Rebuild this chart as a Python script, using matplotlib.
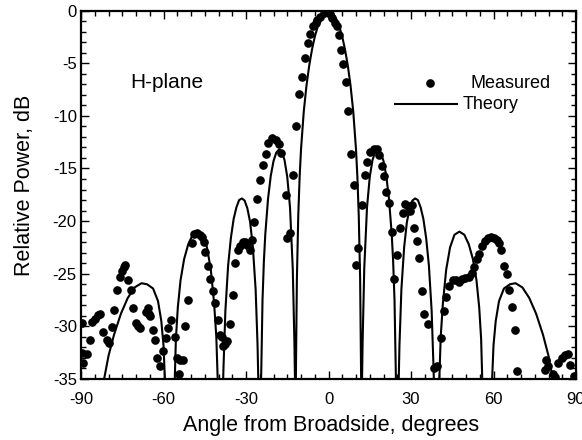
#Recreate the H-plane antenna pattern plot (measured vs theory)

#import modules
import matplotlib
matplotlib.use("Agg")
import matplotlib.pyplot as plt
from matplotlib.ticker import MultipleLocator

#Theory curve (angle in degrees, power in dB)
#points below -35 are the nulls, they get clipped by the axis
theoryAngle = [-83.0, -81.6, -80.0, -78.0, -75.5, -73.0, -70.5, -68.0, -66.0, -63.8, -62.0, -60.8, -60.0, -59.5,
               -57.5, -55.9, -55.5, -54.8, -53.8, -52.5, -51.0, -49.4, -47.6, -45.8, -44.2, -42.8, -41.6, -40.8, -40.3,
               -39.4, -38.35, -38.2, -37.5, -36.5, -35.5, -34.5, -33.5, -32.5, -31.5, -30.5, -29.5, -28.5, -27.5, -26.5, -25.8, -25.5,
               -25.0, -24.55, -24.4, -24.0, -23.5, -23.0, -22.0, -21.0, -20.0, -19.0, -18.0, -17.0, -16.0, -15.0, -14.0, -13.0, -12.4, -12.2,
               -12.0, -11.9, -11.8, -11.5, -11.0, -10.5, -10.0, -9.0, -8.0, -7.0, -6.0, -5.0, -4.0, -3.0, -2.0, -1.0,
               0.0,
               1.0, 2.0, 3.0, 4.0, 5.0, 6.0, 7.0, 8.0, 9.0, 10.0, 10.5, 11.0, 11.5, 11.8, 11.9, 12.0,
               12.2, 12.4, 13.0, 14.0, 15.0, 16.0, 17.0, 18.0, 19.0, 20.0, 21.0, 22.0, 23.0, 23.5, 24.0, 24.4, 24.55, 25.0,
               25.5, 25.8, 26.5, 27.5, 28.5, 29.5, 30.5, 31.5, 32.5, 33.5, 34.5, 35.5, 36.5, 37.5, 38.2, 38.35, 39.4,
               40.3, 40.8, 41.6, 42.8, 44.2, 45.8, 47.6, 49.4, 51.0, 52.5, 53.8, 54.8, 55.5, 55.9, 57.5,
               59.5, 60.0, 60.8, 62.0, 63.8, 66.0, 68.0, 70.5, 73.0, 75.5, 78.0, 80.0, 81.6, 83.0]
theoryPower = [-45.0, -35.0, -32.8, -30.8, -28.8, -27.3, -26.3, -25.9, -26.0, -26.4, -27.6, -29.5, -31.8, -35.0,
               -60.0, -35.0, -31.2, -28.2, -25.6, -23.6, -22.2, -21.3, -21.0, -21.3, -22.5, -24.6, -27.8, -31.0, -35.0,
               -60.0, -35.5, -34.0, -28.5, -24.2, -21.6, -19.8, -18.7, -18.0, -17.85, -18.05, -18.8, -20.1, -22.5, -26.5, -31.8, -35.5,
               -60.0, -35.5, -33.5, -27.5, -23.8, -21.3, -17.9, -15.7, -14.3, -13.5, -13.2, -13.4, -14.2, -15.8, -18.7, -24.5, -31.5, -35.0,
               -60.0, -36.0, -33.0, -25.5, -19.5, -15.8, -13.2, -9.6, -7.1, -5.2, -3.7, -2.5, -1.6, -0.9, -0.4, -0.1,
               0.0,
               -0.1, -0.4, -0.9, -1.6, -2.5, -3.7, -5.2, -7.1, -9.6, -13.2, -15.8, -19.5, -25.5, -33.0, -36.0, -60.0,
               -35.0, -31.5, -24.5, -18.7, -15.8, -14.2, -13.4, -13.2, -13.5, -14.3, -15.7, -17.9, -21.3, -23.8, -27.5, -33.5, -35.5, -60.0,
               -35.5, -31.8, -26.5, -22.5, -20.1, -18.8, -18.05, -17.85, -18.0, -18.7, -19.8, -21.6, -24.2, -28.5, -34.0, -35.5, -60.0,
               -35.0, -31.0, -27.8, -24.6, -22.5, -21.3, -21.0, -21.3, -22.2, -23.6, -25.6, -28.2, -31.2, -35.0, -60.0,
               -35.0, -31.8, -29.5, -27.6, -26.4, -26.0, -25.9, -26.3, -27.3, -28.8, -30.8, -32.8, -35.0, -45.0]

#Measured points
measAngle = [-89.7, -89.5, -89.2, -88.0, -86.8, -86.1, -85.0, -83.9, -83.1, -82.0, -80.4, -79.7, -78.9, -77.9,
             -77.0, -75.9, -75.0, -74.5, -73.9, -72.9, -72.0, -71.0, -70.0, -69.2, -68.6, -66.4, -65.8, -65.2,
             -64.8, -63.8, -63.1, -62.2, -61.2, -60.1, -59.0, -58.2, -57.1, -55.9, -55.2, -54.2, -54.0, -52.9,
             -52.1, -51.0, -49.8, -48.8, -47.7, -46.6, -45.9, -45.4, -44.8, -44.0, -43.1, -42.1, -41.3, -40.1,
             -39.3, -38.6, -38.5, -37.7, -37.0, -36.0, -34.8, -34.1, -33.0, -32.2, -31.2, -30.4, -29.7, -28.6,
             -27.8, -27.0, -25.9, -24.9, -24.0, -22.6, -22.0, -20.4, -19.2, -18.0, -17.3, -15.6, -15.2, -14.0,
             -12.8, -11.7, -10.6, -9.6, -8.5, -7.6, -6.6, -5.6, -4.7, -4.2, -3.1, -1.8, -0.5, 0.6, 1.4, 2.2,
             3.0, 3.8, 4.5, 5.4, 6.5, 7.2, 8.0, 9.1, 10.0, 10.8, 12.0, 13.2, 14.0, 15.2, 16.4, 17.6, 18.5,
             19.3, 20.2, 21.0, 21.9, 23.0, 23.9, 24.8, 26.0, 27.1, 27.9, 28.8, 29.6, 30.2, 31.1, 32.1, 33.0,
             33.9, 34.8, 36.1, 38.4, 39.4, 40.9, 41.9, 42.8, 43.9, 45.2, 46.4, 47.6, 48.5, 49.8, 51.0, 52.1,
             52.9, 54.0, 54.9, 55.9, 56.9, 58.0, 59.2, 60.3, 61.1, 61.9, 62.7, 63.8, 64.85, 65.7, 66.55, 67.75,
             68.7, 78.6, 79.2, 79.85, 81.8, 82.5, 83.55, 84.75, 85.95, 87.0, 87.9, 89.1]
measPower = [-29.7, -32.5, -33.5, -32.6, -31.3, -29.6, -29.3, -28.9, -28.8, -30.5, -31.3, -31.6, -30.1, -28.4,
             -26.5, -25.3, -24.7, -24.4, -24.2, -25.6, -26.5, -28.3, -29.7, -30.0, -30.2, -28.6, -28.3, -28.8,
             -29.0, -30.3, -31.3, -33.0, -33.8, -32.3, -31.1, -30.2, -29.4, -31.0, -33.0, -34.5, -33.2, -33.2,
             -30.0, -27.5, -22.1, -21.2, -21.1, -21.3, -21.5, -22.0, -22.9, -24.3, -25.5, -26.6, -27.8, -29.4,
             -30.8, -31.0, -31.9, -31.7, -31.4, -29.8, -27.0, -24.0, -22.7, -22.4, -22.0, -22.0, -22.3, -22.7,
             -21.8, -20.1, -17.9, -16.1, -14.7, -13.6, -12.6, -12.15, -12.3, -12.7, -13.5, -17.5, -21.6, -21.1,
             -15.6, -11.0, -7.9, -6.3, -4.55, -3.1, -2.2, -1.5, -1.15, -0.9, -0.6, -0.25, 0.0, -0.3, -0.7, -1.2,
             -1.5, -2.3, -3.75, -5.1, -6.8, -9.5, -13.6, -16.6, -24.2, -22.6, -18.5, -15.6, -14.4, -13.45, -13.15, -13.2, -13.7,
             -14.8, -15.75, -17.25, -18.3, -21.05, -25.5, -23.2, -20.7, -19.2, -18.4, -18.6, -19.0, -18.5, -20.7, -21.9, -23.5,
             -26.65, -28.8, -29.8, -34.0, -33.75, -31.15, -28.5, -27.2, -26.2, -25.6, -25.55, -25.75, -25.5, -25.4, -25.3, -24.9,
             -24.35, -23.6, -23.1, -22.35, -21.9, -21.6, -21.5, -21.65, -21.8, -22.1, -22.7, -24.25, -25.0, -26.55, -28.2, -30.3,
             -34.25, -34.1, -33.2, -33.8, -34.55, -34.8, -33.5, -33.05, -32.7, -32.65, -33.7, -34.7]

#Text
xTicks = [-90, -60, -30, 0, 30, 60, 90]
yTicks = [0, -5, -10, -15, -20, -25, -30, -35]

plt.rcParams['font.family'] = ['Liberation Sans', 'DejaVu Sans']
plt.rcParams['axes.unicode_minus'] = False #plain hyphen like the scan

fig = plt.figure(figsize=(5.82, 4.40), dpi=100)
ax = fig.add_axes([0.1392, 0.1386, 0.8505, 0.8375])

#Theory line and measured dots
ax.plot(theoryAngle, theoryPower, color="black", linewidth=1.5, solid_joinstyle="round")
ax.plot(measAngle, measPower, linestyle="none", marker="o", markersize=5.2, color="black")

ax.set_xlim(-90, 90)
ax.set_ylim(-35, 0)
ax.set_xticks(xTicks)
ax.set_yticks(yTicks)
ax.xaxis.set_minor_locator(MultipleLocator(5))
ax.yaxis.set_minor_locator(MultipleLocator(1))
ax.tick_params(which="both", direction="in", top=True, right=True, width=1, labelsize=12)
ax.tick_params(which="major", length=6)
ax.tick_params(which="minor", length=3.5)
ax.tick_params(axis="x", pad=9)
ax.tick_params(axis="y", pad=3)
for s in ax.spines.values():
    s.set_linewidth(1.6)

ax.set_xlabel("Angle from Broadside, degrees", fontsize=15.5)
ax.set_ylabel("Relative Power, dB", fontsize=15.5)
ax.xaxis.set_label_coords(0.506, -0.098)
ax.yaxis.set_label_coords(-0.093, 0.526)

#Labels inside the plot
ax.text(-72.2, -6.8, "H-plane", fontsize=15, va="center", ha="left")
ax.plot([36.9], [-6.9], linestyle="none", marker="o", markersize=5.2, color="black")
ax.text(51.5, -6.9, "Measured", fontsize=13, va="center", ha="left")
ax.plot([24.2, 46.7], [-8.9, -8.9], color="black", linewidth=1.5)
ax.text(48.9, -8.9, "Theory", fontsize=13, va="center", ha="left")

plt.savefig("out.png", dpi=100)
